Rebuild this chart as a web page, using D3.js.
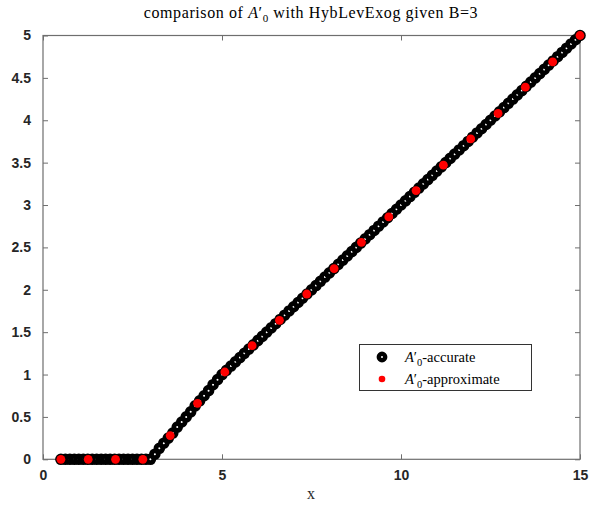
<!DOCTYPE html>
<html>
<head>
<meta charset="utf-8">
<script src="https://cdn.jsdelivr.net/npm/d3@7"></script>
<style>
  html, body { margin: 0; padding: 0; background: #fff; }
  svg { display: block; }
</style>
</head>
<body>
<svg id="chart" width="593" height="507"></svg>
<script>
// Accurate solution, sampled finely
const xAccurate = [
  0.5, 0.625, 0.75, 0.875, 1, 1.125, 1.25, 1.375, 1.5, 1.625, 1.75, 1.875, 2, 2.125, 2.25, 2.375, 2.5, 2.625, 2.75, 2.875, 3,
  3.125, 3.25, 3.375, 3.5, 3.625, 3.75, 3.875, 4, 4.125, 4.25, 4.375, 4.5, 4.625, 4.75, 4.875, 5,
  5.125, 5.25, 5.375, 5.5, 5.625, 5.75, 5.875, 6, 6.125, 6.25, 6.375, 6.5, 6.625, 6.75, 6.875, 7,
  7.125, 7.25, 7.375, 7.5, 7.625, 7.75, 7.875, 8, 8.125, 8.25, 8.375, 8.5, 8.625, 8.75, 8.875, 9,
  9.125, 9.25, 9.375, 9.5, 9.625, 9.75, 9.875, 10, 10.125, 10.25, 10.375, 10.5, 10.625, 10.75, 10.875, 11,
  11.125, 11.25, 11.375, 11.5, 11.625, 11.75, 11.875, 12, 12.125, 12.25, 12.375, 12.5, 12.625, 12.75, 12.875, 13,
  13.125, 13.25, 13.375, 13.5, 13.625, 13.75, 13.875, 14, 14.125, 14.25, 14.375, 14.5, 14.625, 14.75, 14.875, 15
];
const yAccurate = [
  0, 0, 0, 0, 0, 0, 0, 0, 0, 0, 0, 0, 0, 0, 0, 0, 0, 0, 0, 0, 0,
  0.06, 0.13, 0.19, 0.25, 0.31, 0.38, 0.44, 0.5, 0.56, 0.63, 0.69, 0.75, 0.81, 0.88, 0.94, 1,
  1.05, 1.1, 1.15, 1.2, 1.25, 1.3, 1.35, 1.4, 1.45, 1.5, 1.55, 1.6, 1.65, 1.7, 1.75, 1.8,
  1.85, 1.9, 1.95, 2, 2.05, 2.1, 2.15, 2.2, 2.25, 2.3, 2.35, 2.4, 2.45, 2.5, 2.55, 2.6,
  2.65, 2.7, 2.75, 2.8, 2.85, 2.9, 2.95, 3, 3.05, 3.1, 3.15, 3.2, 3.25, 3.3, 3.35, 3.4,
  3.45, 3.5, 3.55, 3.6, 3.65, 3.7, 3.75, 3.8, 3.85, 3.9, 3.95, 4, 4.05, 4.1, 4.15, 4.2,
  4.25, 4.3, 4.35, 4.4, 4.45, 4.5, 4.55, 4.6, 4.65, 4.7, 4.75, 4.8, 4.85, 4.9, 4.95, 5
];

// Approximate solution, coarse grid
const xApprox = [0.5, 1.263, 2.026, 2.789, 3.553, 4.316, 5.079, 5.842, 6.605, 7.368,
                 8.132, 8.895, 9.658, 10.421, 11.184, 11.947, 12.711, 13.474, 14.237, 15];
const yApprox = [0, 0, 0, 0, 0.28, 0.66, 1.03, 1.34, 1.64, 1.95,
                 2.25, 2.56, 2.86, 3.17, 3.47, 3.78, 4.08, 4.39, 4.69, 5];

const xTicks = [0, 5, 10, 15];
const yTicks = [0, 0.5, 1, 1.5, 2, 2.5, 3, 3.5, 4, 4.5, 5];
const legendLabels = ["accurate", "approximate"];

const svg = d3.select("#chart");
const W = 593, H = 507;
const plot = { left: 43, right: 580, top: 35.5, bottom: 459.3 };

svg.append("rect").attr("width", W).attr("height", H).attr("fill", "#fff");

const x = d3.scaleLinear().domain([0, 15]).range([plot.left, plot.right]);
const y = d3.scaleLinear().domain([0, 5]).range([plot.bottom, plot.top]);

const axisColor = "#6e6e6e";
const tickFont = "'Liberation Sans', Arial, Helvetica, sans-serif";
const serif = "'Liberation Serif', 'Times New Roman', serif";

// Axes: ticks point inward, mirrored on the top and right edges
const tickLen = 5;
const gx = svg.append("g").attr("transform", `translate(0,${plot.bottom})`)
  .call(d3.axisBottom(x).tickValues(xTicks).tickSizeInner(-tickLen).tickSizeOuter(0).tickPadding(11)
    .tickFormat(d3.format("d")));
const gxTop = svg.append("g").attr("transform", `translate(0,${plot.top})`)
  .call(d3.axisTop(x).tickValues(xTicks).tickSizeInner(-tickLen).tickSizeOuter(0).tickFormat(""));
const gy = svg.append("g").attr("transform", `translate(${plot.left},0)`)
  .call(d3.axisLeft(y).tickValues(yTicks).tickSizeInner(-tickLen).tickSizeOuter(0).tickPadding(12)
    .tickFormat(d => String(d)));
const gyRight = svg.append("g").attr("transform", `translate(${plot.right},0)`)
  .call(d3.axisRight(y).tickValues(yTicks).tickSizeInner(-tickLen).tickSizeOuter(0).tickFormat(""));

[gx, gxTop, gy, gyRight].forEach(g => {
  g.select(".domain").remove();
  g.selectAll(".tick line").attr("stroke", axisColor).attr("stroke-width", 1);
  g.selectAll(".tick text")
    .attr("fill", "#262626")
    .style("font-family", tickFont)
    .style("font-weight", "bold")
    .style("font-size", "14px");
});

// Box around the plotting area
svg.append("rect")
  .attr("x", plot.left).attr("y", plot.top)
  .attr("width", plot.right - plot.left).attr("height", plot.bottom - plot.top)
  .attr("fill", "none").attr("stroke", axisColor).attr("stroke-width", 1.2);

const accurate = xAccurate.map((v, i) => ({ x: v, y: yAccurate[i] }));
const approx = xApprox.map((v, i) => ({ x: v, y: yApprox[i] }));

// Accurate: thick black rings
svg.append("g").selectAll("circle").data(accurate).join("circle")
  .attr("cx", d => x(d.x)).attr("cy", d => y(d.y))
  .attr("r", 3.4)
  .attr("fill", "#fff")
  .attr("stroke", "#000").attr("stroke-width", 4.8);

// Approximate: solid red dots
svg.append("g").selectAll("circle").data(approx).join("circle")
  .attr("cx", d => x(d.x)).attr("cy", d => y(d.y))
  .attr("r", 4.4)
  .attr("fill", "#ff0000");

// Title
const title = svg.append("text")
  .attr("x", 311).attr("y", 18)
  .attr("text-anchor", "middle")
  .style("font-family", serif)
  .style("font-size", "16px")
  .style("letter-spacing", "0.6px")
  .attr("fill", "#000");
title.append("tspan").text("comparison of ");
title.append("tspan").style("font-style", "italic").text("A");
title.append("tspan").text("′");
title.append("tspan").attr("dy", 4).style("font-size", "11px").text("0");
title.append("tspan").attr("dy", -4).text(" with HybLevExog given B=3");

// X label
svg.append("text")
  .attr("x", 311).attr("y", 499)
  .attr("text-anchor", "middle")
  .style("font-family", serif)
  .style("font-size", "16px")
  .attr("fill", "#262626")
  .text("x");

// Legend
const lg = svg.append("g");
lg.append("rect")
  .attr("x", 359.5).attr("y", 344.5).attr("width", 172).attr("height", 46)
  .attr("fill", "#fff").attr("stroke", "#333").attr("stroke-width", 1);

lg.append("circle").attr("cx", 382).attr("cy", 357).attr("r", 3.2)
  .attr("fill", "#fff").attr("stroke", "#000").attr("stroke-width", 4.4);
lg.append("circle").attr("cx", 382).attr("cy", 379).attr("r", 3.3)
  .attr("fill", "#ff0000");

legendLabels.forEach((lab, i) => {
  const t = lg.append("text")
    .attr("x", 405).attr("y", 362 + i * 22)
    .style("font-family", serif)
    .style("font-size", "14.5px")
    .attr("fill", "#000");
  t.append("tspan").style("font-style", "italic").text("A");
  t.append("tspan").text("′");
  t.append("tspan").attr("dy", 4).style("font-size", "10.5px").text("0");
  t.append("tspan").attr("dy", -4).text("-" + lab);
});
</script>
</body>
</html>
